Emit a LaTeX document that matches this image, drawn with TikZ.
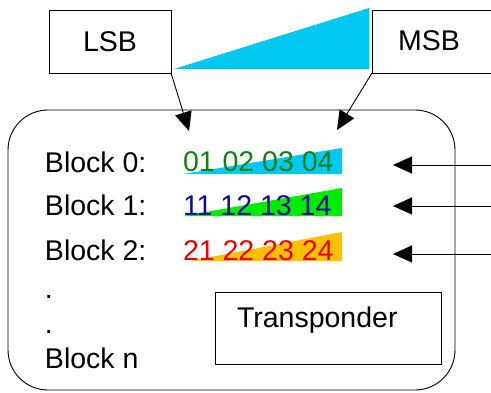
\documentclass[tikz,border=0pt]{standalone}
\usepackage{fontspec}
\setmainfont{Liberation Sans}
\usetikzlibrary{arrows.meta}
\definecolor{wedgecyan}{RGB}{0,200,240}
\definecolor{wedgegreen}{RGB}{0,235,0}
\definecolor{wedgeorange}{RGB}{255,192,0}
\definecolor{numgreen}{RGB}{20,128,20}
\definecolor{numblue}{RGB}{10,10,160}
\definecolor{numred}{RGB}{235,0,0}
\begin{document}
\begin{tikzpicture}[x=1pt,y=-1pt,
  lbl/.style={font=\fontsize{28.5}{32}\selectfont, inner sep=0pt, outer sep=0pt},
  box/.style={draw, line width=0.9pt, inner sep=0pt, outer sep=0pt},
  arr/.style={-{Triangle[length=19pt,width=17pt]}, line width=0.9pt}]
\useasboundingbox (0,0) rectangle (491,392);
% top wedge
\fill[wedgecyan] (174,69) -- (369,8) -- (369,69) -- cycle;
% LSB / MSB boxes
\node[box, lbl, minimum width=122pt, minimum height=63pt, anchor=north west] (lsb) at (49,10) {LSB};
\node[box, minimum width=125pt, minimum height=63pt, anchor=north west] (msb) at (372,10) {};
\node[lbl] (msbt) at (429,41) {MSB};
% transponder outline
\node[box, rounded corners=40pt, minimum width=447pt, minimum height=280pt, anchor=north west] (tr) at (8,110) {};
% arrows from LSB / MSB
\coordinate (lsbtip) at (189,131);
\coordinate (msbtip) at (337,130);
\draw[arr] (lsb.south east) -- (lsbtip);
\draw[arr] (msb.south west) -- (msbtip);
% wedges behind data
\fill[wedgecyan] (183,174) -- (342,148) -- (342,174) -- cycle;
\fill[wedgegreen] (183,216) -- (342,188) -- (342,216) -- cycle;
\fill[wedgeorange] (190,261) -- (342,232) -- (342,261) -- cycle;
% block labels
\node[lbl, anchor=base west] (b0) at (45,172) {Block 0:};
\node[lbl, anchor=base west] (b1) at (45,215) {Block 1:};
\node[lbl, anchor=base west] (b2) at (45,260) {Block 2:};
\node[lbl, anchor=base west] (dot1) at (45,298) {.};
\node[lbl, anchor=base west] (dot2) at (45,333) {.};
\node[lbl, anchor=base west] (bn) at (45,368) {Block n};
% data
\node[lbl, anchor=base west, text=numgreen] (d0) at (183,171) {01 02 03 04};
\node[lbl, anchor=base west, text=numblue] (d1) at (183,215) {11 12 13 14};
\node[lbl, anchor=base west, text=numred] (d2) at (183,260) {21 22 23 24};
% right arrows
\coordinate (r0) at (495,165);
\coordinate (r1) at (495,206);
\coordinate (r2) at (495,254);
\coordinate (t0) at (393,165);
\coordinate (t1) at (393,206);
\coordinate (t2) at (393,254);
\draw[arr] (r0) -- (t0);
\draw[arr] (r1) -- (t1);
\draw[arr] (r2) -- (t2);
% transponder box
\node[box, minimum width=226pt, minimum height=72pt, anchor=north west] (tp) at (215,292) {};
\node[lbl, anchor=base west] (tpt) at (237,327) {Transponder};
\end{tikzpicture}
\end{document}
